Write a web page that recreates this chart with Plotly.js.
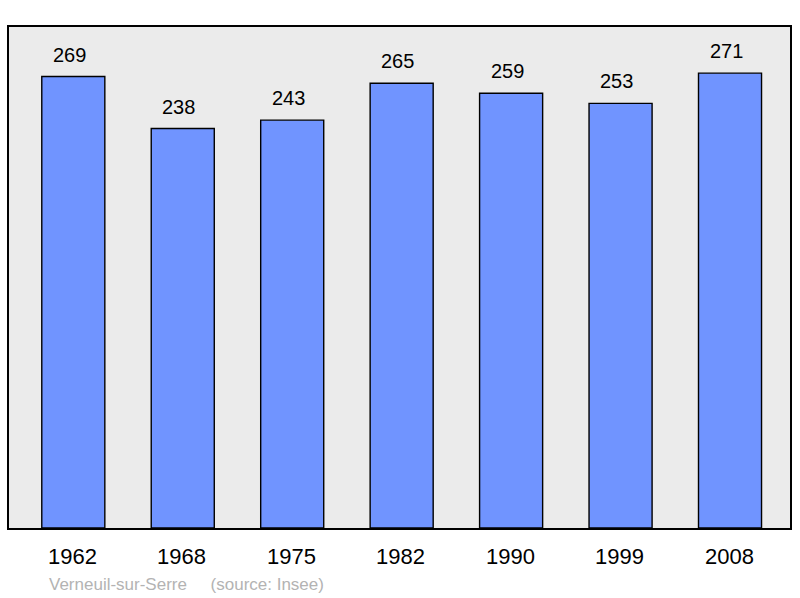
<!DOCTYPE html>
<html>
<head>
<meta charset="utf-8">
<script src="https://cdn.plot.ly/plotly-3.0.1.min.js"></script>
<style>html,body{margin:0;padding:0;background:#fff;}#chart{width:800px;height:598px;}</style>
</head>
<body>
<div id="chart"></div>
<script>
const years = ["1962", "1968", "1975", "1982", "1990", "1999", "2008"];
const population = [269, 238, 243, 265, 259, 253, 271];
const footerText = "Verneuil-sur-Serre\u00a0\u00a0\u00a0\u00a0\u00a0(source: Insee)";

const pos = years.map((_, i) => i);
const FONT = "Liberation Sans, Arial, sans-serif";

const trace = {
  type: "bar",
  x: pos,
  y: population,
  width: 0.576,
  marker: {color: "#7094ff", line: {color: "#000", width: 1.4}},
  hoverinfo: "none"
};

const annotations = [];
pos.forEach((p, i) => {
  annotations.push({
    x: p, y: population[i], xref: "x", yref: "y",
    text: String(population[i]), showarrow: false,
    yanchor: "bottom", yshift: 9, xshift: -4,
    font: {family: FONT, size: 20, color: "#000"}
  });
  annotations.push({
    x: p, y: 0, xref: "x", yref: "paper",
    text: years[i], showarrow: false,
    yanchor: "top", yshift: -14, xshift: -1,
    font: {family: FONT, size: 22, color: "#000"}
  });
});
annotations.push({
  x: 0, y: 0, xref: "paper", yref: "paper",
  xanchor: "left", yanchor: "top", xshift: 38, yshift: -45,
  text: footerText, showarrow: false,
  font: {family: FONT, size: 17, color: "#b3b3b3"}
});

const layout = {
  width: 800, height: 598,
  margin: {l: 9, r: 10, t: 27, b: 70, pad: 0},
  paper_bgcolor: "#ffffff",
  plot_bgcolor: "#ebebeb",
  showlegend: false,
  xaxis: {range: [-0.5875, 6.548], showticklabels: false, showgrid: false, zeroline: false,
          showline: true, mirror: true, linecolor: "#000", linewidth: 2, ticks: "", fixedrange: true},
  yaxis: {range: [0, 298.5], showticklabels: false, showgrid: false, zeroline: false,
          showline: true, mirror: true, linecolor: "#000", linewidth: 2, ticks: "", fixedrange: true},
  annotations: annotations,
  font: {family: FONT}
};

Plotly.newPlot("chart", [trace], layout, {staticPlot: true, displayModeBar: false});
</script>
</body>
</html>
